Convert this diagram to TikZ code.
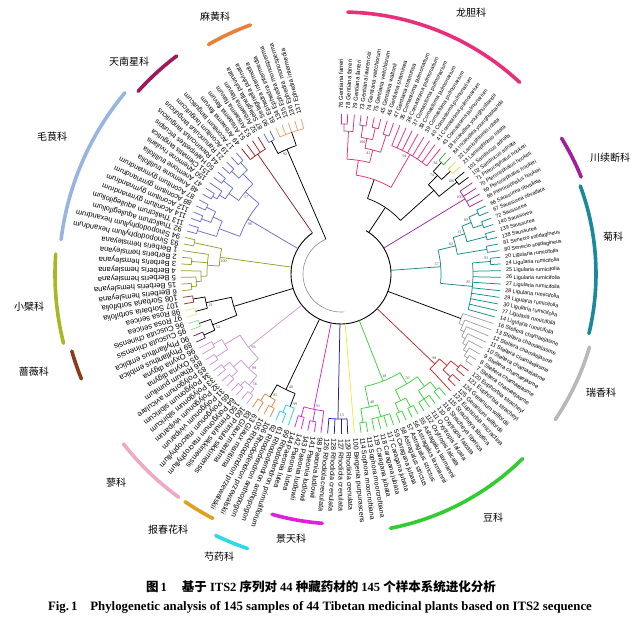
\documentclass[tikz,border=0pt]{standalone}
\usepackage{fontspec}
\setmainfont{Liberation Serif}
\newfontfamily\lsans{Liberation Sans}
\newfontfamily\cjk{Noto Sans CJK SC}
\definecolor{cG}{RGB}{224,50,130}
\definecolor{cIn}{RGB}{60,170,60}
\definecolor{cYe}{RGB}{225,215,90}
\definecolor{cPu}{RGB}{160,40,160}
\definecolor{cTe}{RGB}{20,140,140}
\definecolor{cGr}{RGB}{165,165,165}
\definecolor{cRe}{RGB}{200,40,40}
\definecolor{cFa}{RGB}{60,210,60}
\definecolor{cYe2}{RGB}{240,235,60}
\definecolor{cBl}{RGB}{30,30,170}
\definecolor{cMa}{RGB}{210,40,210}
\definecolor{cCy}{RGB}{40,210,220}
\definecolor{cOr}{RGB}{225,140,70}
\definecolor{cLa}{RGB}{210,150,220}
\definecolor{cDp}{RGB}{90,30,90}
\definecolor{cLg}{RGB}{140,220,140}
\definecolor{cPy}{RGB}{235,235,150}
\definecolor{cBr}{RGB}{140,50,50}
\definecolor{cOl}{RGB}{150,160,40}
\definecolor{cRa}{RGB}{110,110,210}
\definecolor{cAr}{RGB}{150,30,40}
\definecolor{cSe}{RGB}{90,110,200}
\definecolor{cEp}{RGB}{240,160,110}
% family arc colours
\definecolor{aLong}{RGB}{232,48,122}
\definecolor{aChuan}{RGB}{160,32,154}
\definecolor{aJu}{RGB}{26,138,154}
\definecolor{aRui}{RGB}{184,184,184}
\definecolor{aDou}{RGB}{51,204,51}
\definecolor{aJing}{RGB}{224,32,216}
\definecolor{aShao}{RGB}{48,216,232}
\definecolor{aBao}{RGB}{224,160,32}
\definecolor{aLiao}{RGB}{240,168,200}
\definecolor{aQiang}{RGB}{139,58,26}
\definecolor{aXiao}{RGB}{168,184,32}
\definecolor{aMao}{RGB}{152,180,224}
\definecolor{aTian}{RGB}{160,24,90}
\definecolor{aMa}{RGB}{232,128,58}
\makeatletter
\newcommand\nd[4]{%
  \gdef\tmin{1000}\gdef\tmax{-1000}%
  \foreach \ch in {#4}{%
    \edef\cAng{\csname A@\ch\endcsname}%
    \edef\cRad{\csname R@\ch\endcsname pt}%
    \draw[#3] (\cAng:\cRad) -- (\cAng:#2pt);
    \pgfmathsetmacro\tmpa{min(\tmin,\cAng)}\xdef\tmin{\tmpa}%
    \pgfmathsetmacro\tmpb{max(\tmax,\cAng)}\xdef\tmax{\tmpb}%
  }%
  \draw[#3] (\tmin:#2pt) arc[start angle=\tmin, end angle=\tmax, radius=#2pt];
  \pgfmathsetmacro\tmpc{(\tmin+\tmax)/2}%
  \expandafter\xdef\csname A@#1\endcsname{\tmpc}%
  \expandafter\xdef\csname R@#1\endcsname{#2}%
}
\newcommand\rl[2]{\draw[#2] (\csname A@#1\endcsname:\csname R@#1\endcsname pt) -- (\csname A@#1\endcsname:50pt);}
\newcommand\bsv[2]{\node[bsl] at ({\csname A@#1\endcsname+1.6}:{\csname R@#1\endcsname-4}) {#2};}
\newcommand\famarc[4]{\draw[farc,#4] (#1:#3pt) arc[start angle=#1, end angle=#2, radius=#3pt];}
\makeatother
\begin{document}
\begin{tikzpicture}[x=1pt,y=1pt,
  tl/.style={line width=0.75pt},
  lbl/.style={inner sep=0pt, anchor=west},
  fam/.style={font=\cjk\fontsize{10}{12}\selectfont, inner sep=0pt},
  farc/.style={line width=3.6pt, line cap=round},
  bsl/.style={font=\fontsize{4}{4}\selectfont, text=black!70, inner sep=0pt}]
\useasboundingbox (0,0) rectangle (640,624);
\fill[white] (0,0) rectangle (640,624);
\begin{scope}[shift={(341,350)}]
\foreach \i in {1,...,145}{%
  \pgfmathsetmacro\a{90-(\i-1)*2.4}%
  \expandafter\xdef\csname A@\i\endcsname{\a}%
  \expandafter\xdef\csname R@\i\endcsname{160}%
}
\foreach \nm/\spn [count=\i] in {
76/Gentiana farreri, 78/Gentiana farreri, 79/Gentiana farreri, 73/Gentiana lawrencei,
74/Gentiana veitchiorum, 75/Gentiana veitchiorum, 45/Gentiana waltonii, 46/Gentiana straminea,
47/Gentiana straminea, 35/Comastoma pulmonarium, 36/Comastoma pulmonarium, 37/Comastoma pulmonarium,
38/Comastoma pulmonarium, 39/Comastoma pulmonarium, 40/Comastoma pulmonarium, 41/Comastoma pulmonarium,
43/Comastoma pulmonarium, 18/Incarvillea younghusbandii, 84/Incarvillea younghusbandii,
22/Lamiophlomis rotata, 23/Lamiophlomis rotata, 101/Sambucus adnata, 102/Sambucus adnata,
71/Pterocephalus hookeri, 70/Pterocephalus hookeri, 69/Pterocephalus hookeri, 68/Pterocephalus hookeri,
66/Saussurea obvallata, 67/Saussurea obvallata, 72/Saussurea, 140/Saussurea, 139/Saussurea, 138/Saussurea,
81/Senecio solidagineus, 80/Senecio solidagineus, 20/Ligularia rumicifolia, 24/Ligularia rumicifolia,
25/Ligularia rumicifolia, 26/Ligularia rumicifolia, 27/Ligularia rumicifolia, 28/Ligularia rumicifolia,
29/Ligularia rumicifolia, 30/Ligularia rumicifolia, 77/Ligularia rumicifolia, 14/Ligularia rumicifolia,
16/Stellera chamaejasme, 13/Stellera chamaejasme, 12/Stellera chamaejasme, 11/Stellera chamaejasme,
10/Stellera chamaejasme, 9/Stellera chamaejasme, 8/Stellera chamaejasme, 7/Stellera chamaejasme,
120/Euphorbia stracheyi, 121/Euphorbia stracheyi, 124/Geranium wilfordii, 125/Geranium wilfordii,
122/Euphorbia micractina, 115/Stracheya tibetica, 116/Stracheya tibetica, 110/Oxytropis falcata,
111/Oxytropis falcata, 112/Oxytropis falcata, 55/Astragalus laxmannii, 56/Astragalus laxmannii,
57/Astragalus strictus, 58/Astragalus strictus, 59/Caragana jubata, 117/Caragana jubata,
118/Caragana jubata, 119/Caragana jubata, 113/Sophora moorcroftiana, 114/Sophora moorcroftiana,
100/Bergenia purpurascens, 129/Rhodiola crenulata, 127/Rhodiola crenulata, 128/Rhodiola crenulata,
126/Rhodiola crenulata, 98/Paeonia ludlowii, 141/Paeonia ludlowii, 143/Paeonia ludlowii,
142/Paeonia lutea, 144/Paeonia lutea, 99/Rhododendron primuliflorum, 61/Rhododendron anthopogon,
62/Rhododendron anthopogon, 106/Rhododendron przewalskii, 105/Rhododendron przewalskii,
63/Glaux maritima, 83/Glaux maritima, 160/Primula sikkimensis, 150/Primula sikkimensis,
64/Polygonum macrophyllum, 65/Polygonum macrophyllum, 31/Polygonum viviparum, 32/Polygonum viviparum,
33/Polygonum sibiricum, 34/Polygonum sibiricum, 85/Polygonum aviculare, 86/Rheum pumilum,
95/Oxyria digyna, 96/Oxyria digyna, 89/Phyllanthus emblica, 90/Phyllanthus emblica,
95/Cuscuta chinensis, 96/Cuscuta chinensis, 97/Rosa sericea, 98/Rosa sericea,
107/Sorbaria sorbifolia, 108/Sorbaria sorbifolia, 6/Berberis hemsleyana, 15/Berberis hemsleyana,
5/Berberis hemsleyana, 4/Berberis hemsleyana, 3/Berberis hemsleyana, 2/Berberis hemsleyana,
1/Berberis hemsleyana, 93/Sinopodophyllum hexandrum, 94/Sinopodophyllum hexandrum,
92/Thalictrum aquilegifolium, 113/Thalictrum aquilegifolium, 114/Aconitum gymnandrum,
112/Aconitum gymnandrum, 88/Aconitum gymnandrum, 87/Aconitum gymnandrum, 48/Anemone trullifolia,
47/Anemone trullifolia, 150/Anemone rivularis, 151/Clematis tangutica, 50/Halerpestes tricuspis,
44/Ranunculus tanguticus, 21/Ranunculus tanguticus, 19/Aconitum tanguticum, 17/Aconitum tanguticum,
49/Arisaema flavum, 51/Arisaema flavum, 53/Arisaema flavum, 52/Arisaema flavum,
87/Selaginella pulvinata, 90/Selaginella pulvinata, 81/Ephedra intermedia, 134/Ephedra intermedia,
135/Ephedra monosperma, 136/Ephedra monosperma, 137/Ephedra intermedia}{%
  \pgfmathsetmacro\a{90-(\i-1)*2.4}%
  \pgfmathsetmacro\fs{6.5-1.1*cos(\a)-0.5*sin(\a)}%
  \node[lbl, rotate=\a, font=\lsans\fontsize{\fs}{\fs}\selectfont] (leaf\i) at (\a:165pt) {\nm\ \spn};
}
% root
\draw[line width=0.9pt] (125:50pt) arc[start angle=125, end angle=420, radius=50pt];
\draw[line width=0.6pt, black!45] (113.4:38pt) arc[start angle=113.4, end angle=275, radius=38pt];
% Gentianaceae
\nd{g1}{150}{tl,cG}{1,2}
\nd{g2}{143}{tl,cG}{g1,3}
\nd{g3}{150}{tl,cG}{4,5}
\nd{g4}{150}{tl,cG}{6,7}
\nd{g5}{146}{tl,cG}{8,9}
\nd{g6}{138}{tl,cG}{g3,g4}
\nd{g7}{128}{tl,cG}{g6,g5}
\nd{g8}{115}{tl,cG}{g2,g7}
\nd{g9}{138}{tl,cG}{10,11,12,13,14,15,16,17}
\nd{g10}{100}{tl,cG}{g8,g9}
\nd{s1}{150}{tl,cIn}{18,19}
\nd{s2}{150}{tl,cYe}{20,21}
\nd{s3}{148}{tl,black}{22,23}
\nd{s4}{138}{tl,black}{s1,s2}
\nd{s5}{125}{tl,black}{s4,s3}
\nd{j1}{80}{tl,black}{g10,s5}
\rl{j1}{tl,black}
% Dipsacaceae
\nd{p1}{145}{tl,cPu}{24,25,26,27}
\rl{p1}{tl,cPu}
% Asteraceae
\nd{t1}{150}{tl,cTe}{28,29}
\nd{t2}{150}{tl,cTe}{30,31}
\nd{t3}{150}{tl,cTe}{32,33}
\nd{t4}{140}{tl,cTe}{t1,t2}
\nd{t5}{130}{tl,cTe}{t4,t3}
\nd{t6}{148}{tl,cTe}{34,35}
\nd{t7}{118}{tl,cTe}{t5,t6}
\nd{t8}{150}{tl,cTe}{36,37}
\nd{t9}{132}{tl,cTe}{t8,38,39,40,41,42,43,44,45}
\nd{t10}{100}{tl,cTe}{t7,t9}
\rl{t10}{tl,cTe}
% Thymelaeaceae
\nd{y1}{152}{tl,cGr}{52,53}
\nd{y2}{148}{tl,cGr}{51,y1}
\nd{y3}{144}{tl,cGr}{50,y2}
\nd{y4}{140}{tl,cGr}{49,y3}
\nd{y5}{136}{tl,cGr}{48,y4}
\nd{y6}{132}{tl,cGr}{47,y5}
\nd{y7}{128}{tl,cGr}{46,y6}
\rl{y7}{tl,black}
% Euphorbia etc.
\nd{r1}{150}{tl,cRe}{54,55}
\nd{r2}{150}{tl,cRe}{56,57}
\nd{r3}{140}{tl,cRe}{r1,r2}
\nd{r4}{130}{tl,cRe}{r3,58}
\rl{r4}{tl,cRe}
% Fabaceae
\nd{f1}{150}{tl,cFa}{59,60}
\nd{f2}{150}{tl,cFa}{61,62,63}
\nd{f3}{140}{tl,cFa}{f1,f2}
\nd{f4}{150}{tl,cFa}{64,65}
\nd{f5}{150}{tl,cFa}{66,67}
\nd{f6}{140}{tl,cFa}{f4,f5}
\nd{f7}{128}{tl,cFa}{f3,f6}
\nd{f8}{148}{tl,cFa}{68,69,70,71}
\nd{f9}{150}{tl,cFa}{72,73}
\nd{f10}{136}{tl,cFa}{f8,f9}
\nd{f11}{115}{tl,cFa}{f7,f10}
\rl{f11}{tl,cFa}
\rl{74}{tl,cYe2}
\nd{b1}{145}{tl,cBl}{75,76,77,78}
\rl{b1}{tl,cBl}
\nd{m1}{150}{tl,cMa}{80,81}
\nd{m2}{148}{tl,cMa}{82,83}
\nd{m3}{138}{tl,cMa}{79,m1,m2}
\rl{m3}{tl,cMa}
\nd{c1}{150}{tl,cCy}{85,86}
\nd{c2}{142}{tl,cCy}{84,c1}
\nd{o1}{150}{tl,cOr}{87,88}
\nd{o2}{150}{tl,cOr}{89,90}
\nd{o3}{142}{tl,cOr}{o1,o2}
\nd{k1}{128}{tl,black}{c2,o3}
\rl{k1}{tl,black}
% Polygonaceae
\nd{v1}{150}{tl,cLa}{91,92}
\nd{v2}{150}{tl,cLa}{93,94}
\nd{v3}{144}{tl,cLa}{v1,v2}
\nd{v4}{150}{tl,cLa}{95,96}
\nd{v5}{150}{tl,cLa}{97,98}
\nd{v6}{142}{tl,cLa}{v4,v5}
\nd{v7}{132}{tl,cLa}{v3,v6}
\nd{v8}{150}{tl,cLa}{99,100}
\nd{v9}{146}{tl,cLa}{101,102}
\nd{v10}{136}{tl,cLa}{v8,v9}
\nd{v11}{118}{tl,cLa}{v7,v10}
\rl{v11}{tl,cLa}
\nd{d1}{150}{tl,cDp}{103,104}
\nd{e1}{150}{tl,cLg}{105,106}
\nd{k2}{138}{tl,black}{d1,e1}
\nd{h1}{150}{tl,cPy}{107,108}
\nd{h2}{150}{tl,cBr}{109,110}
\nd{h3}{138}{tl,black}{h1,h2}
\nd{k3}{112}{tl,black}{k2,h3}
\rl{k3}{tl,black}
% Berberidaceae
\nd{bb1}{150}{tl,cOl}{111,112}
\nd{bb2}{145}{tl,cOl}{bb1,113}
\nd{bb3}{140}{tl,cOl}{bb2,114}
\nd{bb4}{150}{tl,cOl}{115,116}
\nd{bb5}{134}{tl,cOl}{bb3,bb4,117}
\nd{bb6}{150}{tl,cOl}{118,119}
\nd{bb7}{122}{tl,cOl}{bb5,bb6}
\rl{bb7}{tl,cOl}
% Ranunculaceae
\nd{u1}{150}{tl,cRa}{120,121}
\nd{u2}{150}{tl,cRa}{122,123}
\nd{u3}{150}{tl,cRa}{124,125}
\nd{u4}{140}{tl,cRa}{u2,u3}
\nd{u5}{130}{tl,cRa}{u1,u4}
\nd{u6}{150}{tl,cRa}{126,127}
\nd{u7}{145}{tl,cRa}{u6,128}
\nd{u8}{150}{tl,cRa}{129,130}
\nd{u9}{138}{tl,cRa}{u7,u8}
\nd{u10}{150}{tl,cRa}{131,132}
\nd{u11}{150}{tl,cRa}{133,134}
\nd{u12}{140}{tl,cRa}{u10,u11}
\nd{u13}{126}{tl,cRa}{u9,u12}
\nd{u14}{108}{tl,cRa}{u5,u13}
\rl{u14}{tl,cRa}
% Araceae
\nd{a1}{146}{tl,cAr}{135,136,137,138}
\rl{a1}{tl,cAr}
% Selaginella + Ephedra
\nd{q1}{150}{tl,cSe}{139,140}
\nd{q2}{150}{tl,cEp}{141,142,143,144,145}
\nd{q3}{136}{tl,black}{q1,q2}
\makeatletter
\draw[tl,black] (\csname A@q3\endcsname:136pt) -- (\csname A@q3\endcsname:38pt);
\makeatother
% bootstrap values
\bsv{g9}{94}\bsv{g7}{41}\bsv{g6}{100}\bsv{s4}{74}\bsv{s3}{100}\bsv{s1}{84}
\bsv{p1}{100}\bsv{t10}{57}\bsv{t9}{85}\bsv{t7}{84}\bsv{t5}{31}\bsv{t4}{89}\bsv{t8}{93}
\bsv{r4}{98}\bsv{f11}{18}\bsv{f7}{50}\bsv{f10}{48}\bsv{m3}{91}\bsv{b1}{13}\bsv{c2}{99}
\bsv{o3}{85}\bsv{k1}{48}\bsv{v11}{93}\bsv{v7}{99}\bsv{v3}{56}\bsv{k2}{54}\bsv{h3}{21}
\bsv{bb7}{100}\bsv{u14}{98}\bsv{u13}{57}\bsv{q3}{92}
% family arcs
\famarc{88.5}{47}{262}{aLong}
\famarc{31.6}{22}{259}{aChuan}
\famarc{20.2}{-13.5}{255}{aJu}
\famarc{-16.4}{-34.2}{259}{aRui}
\famarc{-45.5}{-79}{259}{aDou}
\famarc{-94.3}{-106}{250}{aJing}
\famarc{-108.8}{-115.6}{290}{aShao}
\famarc{-117.7}{-124.4}{276}{aBao}
\famarc{-126}{-142}{276}{aLiao}
\famarc{202}{196}{280}{aQiang}
\famarc{194}{176}{286}{aXiao}
\famarc{173}{140}{282}{aMao}
\famarc{138}{127}{273}{aTian}
\famarc{120}{110}{265}{aMa}
\end{scope}
% family names
\node[fam] (fLong) at (471,611) {龙胆科};
\node[fam] (fChuan) at (610,466) {川续断科};
\node[fam] (fJu) at (613,387) {菊科};
\node[fam] (fRui) at (601,231) {瑞香科};
\node[fam] (fDou) at (493,106) {豆科};
\node[fam] (fJing) at (291,85) {景天科};
\node[fam] (fShao) at (219,67) {芍药科};
\node[fam] (fBao) at (168,94) {报春花科};
\node[fam] (fLiao) at (116,141) {蓼科};
\node[fam] (fQiang) at (34,252) {蔷薇科};
\node[fam] (fXiao) at (29,317) {小檗科};
\node[fam] (fMao) at (52,487) {毛茛科};
\node[fam] (fTian) at (129,562) {天南星科};
\node[fam] (fMa) at (215,607) {麻黄科};
% caption
\node[font=\bfseries\fontsize{12.5}{14}\selectfont, inner sep=0pt] (cap1) at (321,37) {{\cjk 图}\,1\hspace{1.2em}{\cjk 基于} ITS2 {\cjk 序列对} 44 {\cjk 种藏药材的} 145 {\cjk 个样本系统进化分析}};
\node[font=\bfseries\fontsize{12.8}{14}\selectfont, inner sep=0pt] (cap2) at (320,17) {Fig.\,1\hspace{1em}Phylogenetic analysis of 145 samples of 44 Tibetan medicinal plants based on ITS2 sequence};
\end{tikzpicture}
\end{document}
